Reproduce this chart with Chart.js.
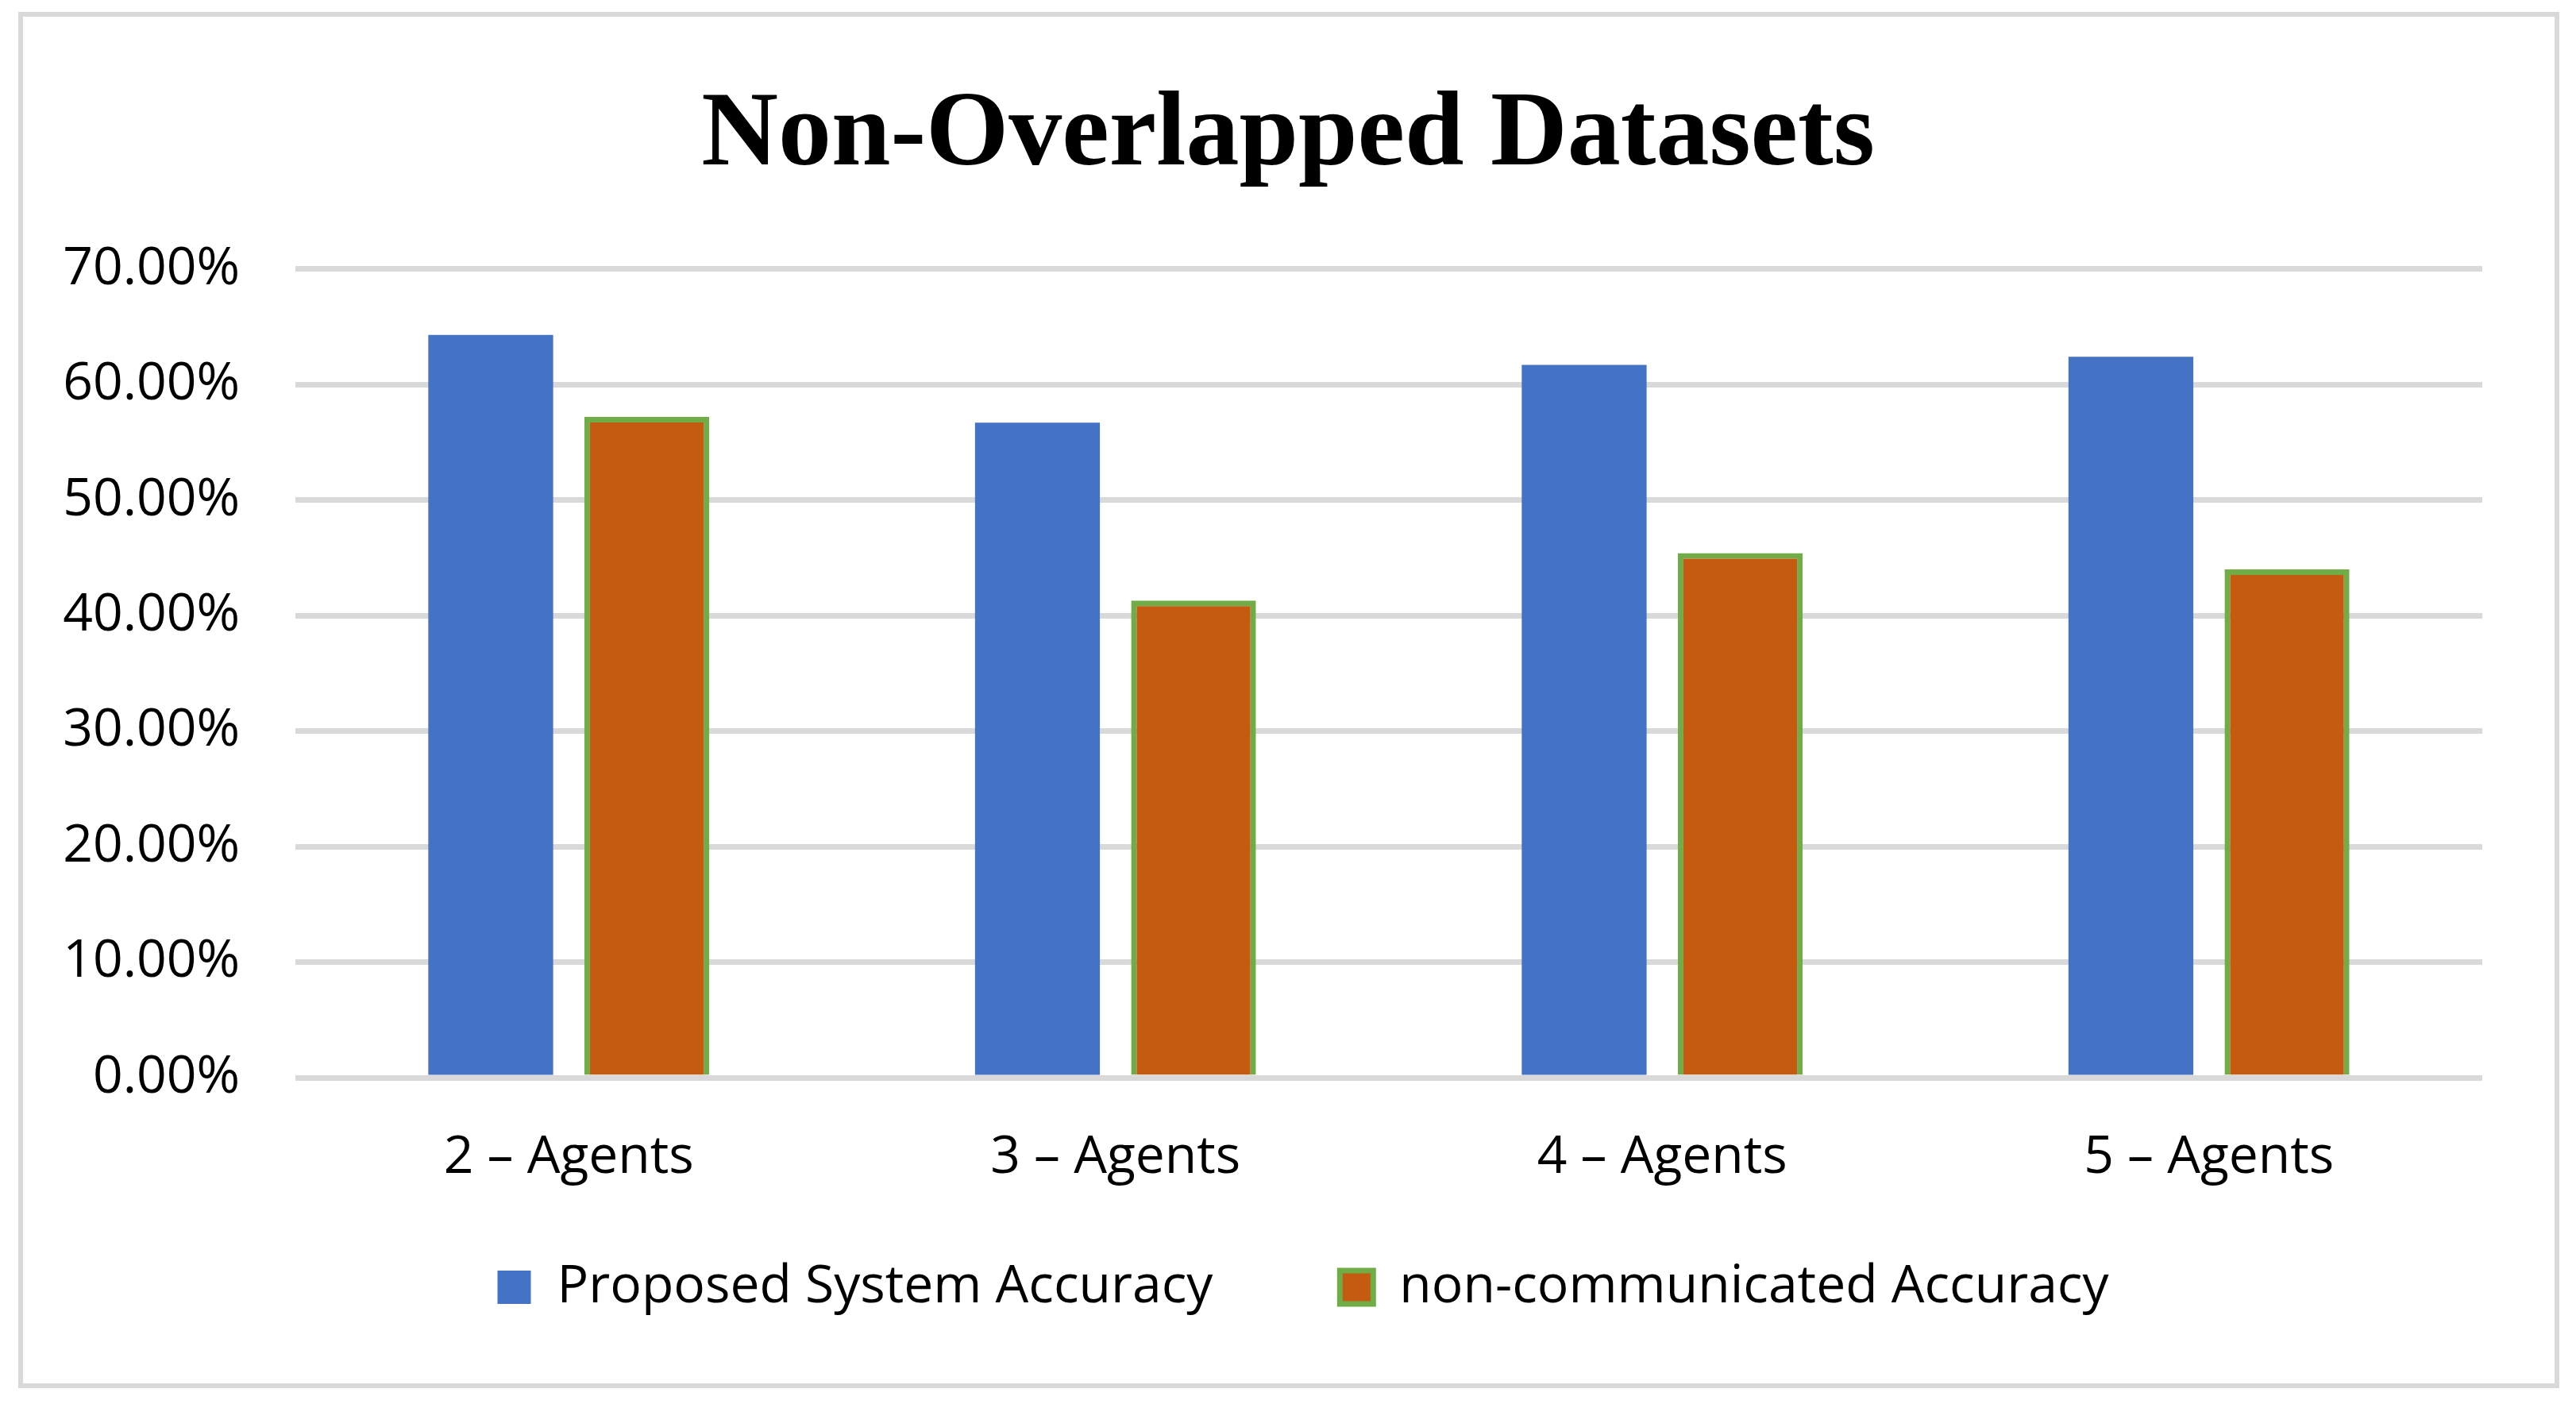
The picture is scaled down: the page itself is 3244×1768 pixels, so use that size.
<!DOCTYPE html>
<html>
<head>
<meta charset="utf-8">
<script src="https://cdn.jsdelivr.net/npm/chart.js@4.4.1/dist/chart.umd.min.js"></script>
<style>
  html, body { margin: 0; padding: 0; background: #fff; overflow: hidden; }
  #wrap { position: relative; width: 3244px; height: 1768px; }
</style>
</head>
<body>
<div id="wrap"><canvas id="accChart" width="3244" height="1768"></canvas></div>
<script>
const categories = ['2 – Agents', '3 – Agents', '4 – Agents', '5 – Agents'];
const proposedAcc = [64.3, 56.7, 61.7, 62.4];
const nonCommAcc = [57.2, 41.3, 45.4, 44.0];
const yTicks = [0, 10, 20, 30, 40, 50, 60, 70];

const sansFont = "'Open Sans', 'Noto Sans', sans-serif";

// white background + light grey frame round the whole chart
const framePlugin = {
    id: 'frame',
    beforeDraw(chart) {
        const ctx = chart.ctx;
        ctx.save();
        ctx.fillStyle = '#ffffff';
        ctx.fillRect(0, 0, chart.width, chart.height);
        ctx.strokeStyle = '#d9d9d9';
        ctx.lineWidth = 6;
        ctx.strokeRect(26, 18, chart.width - 50, chart.height - 41);
        ctx.restore();
    }
};

// left padding is small so the y labels fit; re-centre title and legend on the page,
// and pull the legend up (its big item padding also pads it vertically)
const boxShift = {
    id: 'boxShift',
    afterLayout(chart) {
        const tb = chart.titleBlock;
        tb.left += 39;
        tb.right += 39;
        const lg = chart.legend;
        lg.left += 58;
        lg.right += 58;
        lg.top -= 79;
        lg.bottom -= 79;
    }
};

const ctx = document.getElementById('accChart').getContext('2d');
const accChart = new Chart(ctx, {
    type: 'bar',
    data: {
        labels: categories,
        datasets: [{
            label: 'Proposed System Accuracy',
            data: proposedAcc,
            backgroundColor: '#4472c4',
            borderWidth: 0,
            categoryPercentage: 0.571,
            barPercentage: 0.8
        }, {
            label: 'non-communicated Accuracy',
            data: nonCommAcc,
            backgroundColor: '#c55a11',
            borderColor: '#70ad47',
            borderWidth: 7,
            categoryPercentage: 0.571,
            barPercentage: 0.8
        }]
    },
    options: {
        responsive: false,
        devicePixelRatio: 1,
        animation: false,
        layout: {
            padding: { top: 92, bottom: 25, left: 40, right: 118 }
        },
        plugins: {
            title: {
                display: true,
                text: 'Non-Overlapped Datasets',
                color: '#000000',
                font: { family: "'Liberation Serif', 'Times New Roman', serif", size: 134, weight: 'bold' },
                padding: { top: 0, bottom: 86 }
            },
            legend: {
                position: 'bottom',
                labels: {
                    color: '#000000',
                    font: { family: sansFont, size: 66 },
                    boxWidth: 42,
                    boxHeight: 42,
                    padding: 160
                }
            },
            tooltip: { enabled: false }
        },
        scales: {
            x: {
                grid: { display: false, drawTicks: false },
                border: { display: false },
                ticks: {
                    color: '#000000',
                    font: { family: sansFont, size: 66 },
                    padding: 62,
                    maxRotation: 0
                },
                afterFit(scale) { scale.height = 150; }
            },
            y: {
                min: 0,
                max: 70,
                grid: { color: '#d9d9d9', lineWidth: 7, drawTicks: false },
                border: { display: false },
                afterBuildTicks(scale) { scale.ticks = yTicks.map(v => ({ value: v })); },
                afterFit(scale) { scale.width = 332; },
                ticks: {
                    color: '#000000',
                    font: { family: sansFont, size: 66 },
                    padding: 70,
                    callback: v => `${v.toFixed(2)}%`
                }
            }
        }
    },
    plugins: [framePlugin, boxShift]
});
</script>
</body>
</html>
